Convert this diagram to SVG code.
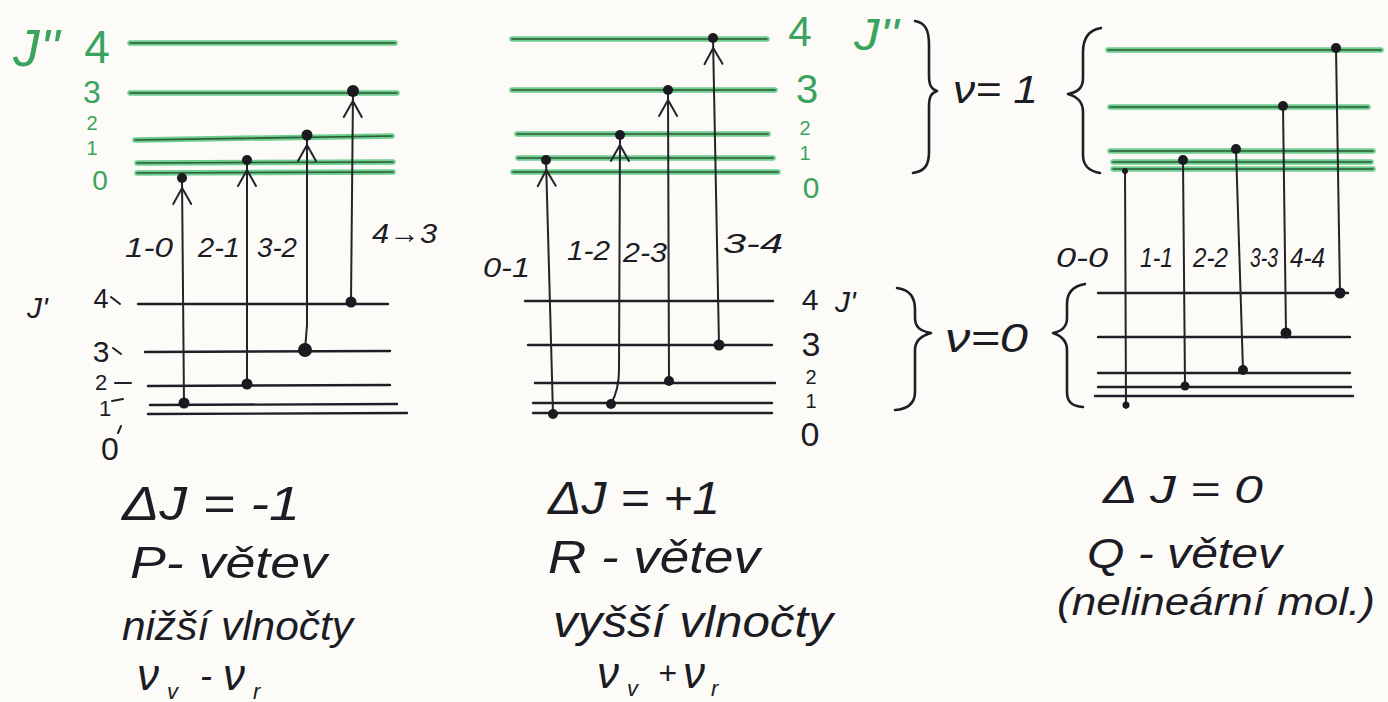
<svg xmlns="http://www.w3.org/2000/svg" width="1388" height="702" viewBox="0 0 1388 702">
<style>
.halo{fill:none;stroke:#5fc882;stroke-width:5.5;stroke-linecap:round;opacity:.9}
.core{fill:none;stroke:#2c5a3a;stroke-width:1.6;stroke-linecap:round}
.lvl{fill:none;stroke:#1e1e26;stroke-width:2.4;stroke-linecap:round}
.tr{fill:none;stroke:#23232a;stroke-width:2;stroke-linecap:round;stroke-linejoin:round}
.dot{fill:#1a1a20}
.brace{fill:none;stroke:#1e1e26;stroke-width:2.6;stroke-linecap:round;stroke-linejoin:round}
.hw{font-family:"Liberation Sans",Arial,sans-serif;font-style:italic;fill:#1c1c24}
.num{font-family:"Liberation Sans",Arial,sans-serif;fill:#1c1c24;text-anchor:middle}
.gn{font-family:"Liberation Sans",Arial,sans-serif;fill:#3aa35e;text-anchor:middle}
.gj{font-family:"Liberation Sans",Arial,sans-serif;font-style:italic;fill:#3aa35e}
.tick{fill:none;stroke:#1e1e26;stroke-width:2;stroke-linecap:round}
</style>
<defs>
<marker id="chev" markerUnits="userSpaceOnUse" markerWidth="40" markerHeight="40" refX="10" refY="0" orient="auto" overflow="visible">
<path d="M-16,-9 L0,0 L-16,9" fill="none" stroke="#23232a" stroke-width="2" stroke-linecap="round" stroke-linejoin="round"/>
</marker>
<path id="a4" d="M130,43 L395,43"/>
<path id="a3" d="M130,93 L397,93"/>
<path id="a2" d="M135,140 L392,136"/>
<path id="a1" d="M137,163 L393,162"/>
<path id="a0" d="M137,173 L393,172"/>
<path id="b4" d="M512,39 L767,39"/>
<path id="b3" d="M512,90 L775,90"/>
<path id="b2" d="M517,134 L768,134"/>
<path id="b1" d="M518,158 L773,158"/>
<path id="b0" d="M513,172 L778,172"/>
<path id="c4" d="M1108,50 L1381,50"/>
<path id="c3" d="M1110,107 L1368,107"/>
<path id="c2" d="M1110,151 L1373,151"/>
<path id="c1" d="M1113,162 L1371,162"/>
<path id="c0" d="M1113,169 L1373,169"/>
</defs>
<rect width="1388" height="702" fill="#fcfbf7"/>

<!-- Panel P -->
<g id="p-upper-levels">
<g id="p-J2-4"><use href="#a4" class="halo"/><use href="#a4" class="core"/></g>
<g id="p-J2-3"><use href="#a3" class="halo"/><use href="#a3" class="core"/></g>
<g id="p-J2-2"><use href="#a2" class="halo"/><use href="#a2" class="core"/></g>
<g id="p-J2-1"><use href="#a1" class="halo"/><use href="#a1" class="core"/></g>
<g id="p-J2-0"><use href="#a0" class="halo"/><use href="#a0" class="core"/></g>
<text class="gj" x="13" y="66" font-size="52" textLength="47" lengthAdjust="spacingAndGlyphs">J''</text>
<text class="gn" x="97" y="63" font-size="46">4</text>
<text class="gn" x="92" y="103" font-size="32">3</text>
<text class="gn" x="92" y="130" font-size="20">2</text>
<text class="gn" x="92" y="155" font-size="20">1</text>
<text class="gn" x="100" y="190" font-size="28">0</text>
</g>
<g id="p-lower-levels">
<path class="lvl" d="M138,304 L388,304"/>
<path class="lvl" d="M145,352 L390,351"/>
<path class="lvl" d="M148,386 L390,385"/>
<path class="lvl" d="M150,405 L397,404"/>
<path class="lvl" d="M148,414 L407,413"/>
<text class="hw" x="27" y="318" font-size="30">J'</text>
<text class="num" x="101" y="308" font-size="27">4</text>
<text class="num" x="101" y="362" font-size="30">3</text>
<text class="num" x="101" y="390" font-size="22">2</text>
<text class="num" x="105" y="416" font-size="22">1</text>
<text class="num" x="110" y="460" font-size="32">0</text>
<path class="tick" d="M111,297 L120,304"/>
<path class="tick" d="M113,348 L121,354"/>
<path class="tick" d="M115,383 L131,383"/>
<path class="tick" d="M112,401 L123,399"/>
<path class="tick" d="M121,426 L118,433"/>
</g>

<!-- Panel R -->
<g id="r-upper-levels">
<g id="r-J2-4"><use href="#b4" class="halo"/><use href="#b4" class="core"/></g>
<g id="r-J2-3"><use href="#b3" class="halo"/><use href="#b3" class="core"/></g>
<g id="r-J2-2"><use href="#b2" class="halo"/><use href="#b2" class="core"/></g>
<g id="r-J2-1"><use href="#b1" class="halo"/><use href="#b1" class="core"/></g>
<g id="r-J2-0"><use href="#b0" class="halo"/><use href="#b0" class="core"/></g>
<text class="gn" x="800" y="46" font-size="42">4</text>
<text class="gn" x="807" y="103" font-size="40">3</text>
<text class="gn" x="805" y="135" font-size="20">2</text>
<text class="gn" x="805" y="160" font-size="20">1</text>
<text class="gn" x="811" y="198" font-size="30">0</text>
</g>
<g id="r-lower-levels">
<path class="lvl" d="M525,301 L773,301"/>
<path class="lvl" d="M528,345 L772,345"/>
<path class="lvl" d="M535,383 L775,383"/>
<path class="lvl" d="M533,403 L772,403"/>
<path class="lvl" d="M533,413 L772,413"/>
<text class="num" x="810" y="310" font-size="30">4</text>
<text class="num" x="811" y="356" font-size="34">3</text>
<text class="num" x="811" y="384" font-size="20">2</text>
<text class="num" x="811" y="408" font-size="20">1</text>
<text class="num" x="810" y="446" font-size="34">0</text>
<text class="hw" x="835" y="312" font-size="30">J'</text>
</g>

<!-- Panel Q -->
<g id="q-upper-levels">
<g id="q-J2-4"><use href="#c4" class="halo"/><use href="#c4" class="core"/></g>
<g id="q-J2-3"><use href="#c3" class="halo"/><use href="#c3" class="core"/></g>
<g id="q-J2-2"><use href="#c2" class="halo"/><use href="#c2" class="core"/></g>
<g id="q-J2-1"><use href="#c1" class="halo"/><use href="#c1" class="core"/></g>
<g id="q-J2-0"><use href="#c0" class="halo"/><use href="#c0" class="core"/></g>
<text class="gj" x="854" y="50" font-size="44" textLength="45" lengthAdjust="spacingAndGlyphs">J''</text>
<path class="brace" d="M915,21 C926,23 929,31 929,45 L929,75 C929,85 931,89 937,91 C931,93 929,97 929,107 L929,152 C929,165 925,171 913,173"/>
<text class="hw" x="953" y="103" font-size="38" textLength="85" lengthAdjust="spacingAndGlyphs">ν= 1</text>
<path class="brace" d="M1101,28 C1089,30 1083,38 1083,52 L1083,78 C1083,88 1078,92 1068,94 C1078,97 1083,102 1083,112 L1083,155 C1083,166 1089,171 1100,173"/>
</g>
<g id="q-lower-levels">
<path class="lvl" d="M1098,293 L1348,293"/>
<path class="lvl" d="M1098,337 L1350,337"/>
<path class="lvl" d="M1098,373 L1350,373"/>
<path class="lvl" d="M1098,387 L1351,387"/>
<path class="lvl" d="M1095,396 L1353,396"/>
<path class="brace" d="M897,288 C910,290 915,297 915,310 L915,318 C915,327 920,331 931,333 C920,336 915,341 915,350 L915,392 C915,403 908,409 895,410"/>
<text class="hw" x="945" y="352" font-size="40" textLength="83" lengthAdjust="spacingAndGlyphs">ν=0</text>
<path class="brace" d="M1085,284 C1073,286 1067,292 1067,304 L1067,318 C1067,327 1062,331 1053,333 C1062,336 1067,341 1067,350 L1067,392 C1067,402 1072,406 1083,407"/>
</g>

<!-- Connectors -->
<g id="connectors">
<path class="tr" d="M184,403 L182,178" marker-end="url(#chev)"/>
<path class="tr" d="M247,384 L247,160" marker-end="url(#chev)"/>
<path class="tr" d="M305,350 L307,325 L307,135" marker-end="url(#chev)"/>
<path class="tr" d="M351,302 L353,91" marker-end="url(#chev)"/>
<path class="tr" d="M553,414 L546,160" marker-end="url(#chev)"/>
<path class="tr" d="M611,404 C616,395 619,385 619,370 L620,135" marker-end="url(#chev)"/>
<path class="tr" d="M669,381 L668,90" marker-end="url(#chev)"/>
<path class="tr" d="M719,345 L713,38" marker-end="url(#chev)"/>
<path class="tr" d="M1125,170 L1126,408"/>
<path class="tr" d="M1183,160 L1185,386"/>
<path class="tr" d="M1236,149 L1243,370"/>
<path class="tr" d="M1283,106 L1286,333"/>
<path class="tr" d="M1336,48 L1340,293"/>
<g class="dot">
<circle cx="184" cy="403" r="5.5"/><circle cx="182" cy="178" r="5"/>
<circle cx="247" cy="384" r="5.5"/><circle cx="247" cy="160" r="5"/>
<circle cx="305" cy="350" r="7"/><circle cx="307" cy="135" r="5.5"/>
<circle cx="351" cy="302" r="5.5"/><circle cx="353" cy="91" r="6"/>
<circle cx="553" cy="414" r="5"/><circle cx="546" cy="160" r="5"/>
<circle cx="611" cy="404" r="5"/><circle cx="620" cy="135" r="5"/>
<circle cx="669" cy="381" r="5"/><circle cx="668" cy="90" r="5"/>
<circle cx="719" cy="345" r="5.5"/><circle cx="713" cy="38" r="5"/>
<circle cx="1125" cy="171" r="3"/><circle cx="1126" cy="405" r="3.5"/>
<circle cx="1183" cy="160" r="5"/><circle cx="1185" cy="386" r="4.5"/>
<circle cx="1236" cy="149" r="5"/><circle cx="1243" cy="370" r="5"/>
<circle cx="1283" cy="106" r="5"/><circle cx="1286" cy="333" r="5.5"/>
<circle cx="1336" cy="48" r="5"/><circle cx="1340" cy="293" r="5.5"/>
</g>
<text class="hw" x="125" y="257" font-size="28" textLength="48" lengthAdjust="spacingAndGlyphs">1-0</text>
<text class="hw" x="198" y="257" font-size="28" textLength="42" lengthAdjust="spacingAndGlyphs">2-1</text>
<text class="hw" x="257" y="257" font-size="28" textLength="40" lengthAdjust="spacingAndGlyphs">3-2</text>
<text class="hw" x="372" y="243" font-size="28" textLength="65" lengthAdjust="spacingAndGlyphs">4→3</text>
<text class="hw" x="483" y="277" font-size="28" textLength="47" lengthAdjust="spacingAndGlyphs">0-1</text>
<text class="hw" x="567" y="260" font-size="28" textLength="43" lengthAdjust="spacingAndGlyphs">1-2</text>
<text class="hw" x="623" y="262" font-size="28" textLength="44" lengthAdjust="spacingAndGlyphs">2-3</text>
<text class="hw" x="723" y="253" font-size="28" textLength="60" lengthAdjust="spacingAndGlyphs">3-4</text>
<text class="hw" x="1056" y="267" font-size="28" textLength="52" lengthAdjust="spacingAndGlyphs">0-0</text>
<text class="hw" x="1140" y="267" font-size="28" textLength="33" lengthAdjust="spacingAndGlyphs">1-1</text>
<text class="hw" x="1193" y="267" font-size="28" textLength="35" lengthAdjust="spacingAndGlyphs">2-2</text>
<text class="hw" x="1250" y="267" font-size="28" textLength="28" lengthAdjust="spacingAndGlyphs">3-3</text>
<text class="hw" x="1290" y="267" font-size="28" textLength="35" lengthAdjust="spacingAndGlyphs">4-4</text>
</g>

<!-- Captions -->
<g id="caption-P">
<text class="hw" x="122" y="520" font-size="48" textLength="178" lengthAdjust="spacingAndGlyphs">ΔJ = -1</text>
<text class="hw" x="130" y="578" font-size="44" textLength="197" lengthAdjust="spacingAndGlyphs">P- větev</text>
<text class="hw" x="122" y="640" font-size="40" textLength="231" lengthAdjust="spacingAndGlyphs">nižší vlnočty</text>
<text class="hw" font-size="44"><tspan x="137" y="690">ν</tspan><tspan x="167" y="699" font-size="22">v</tspan><tspan x="200" y="688" font-size="36">-</tspan><tspan x="223" y="690">ν</tspan><tspan x="253" y="699" font-size="22">r</tspan></text>
</g>
<g id="caption-R">
<text class="hw" x="548" y="514" font-size="46" textLength="172" lengthAdjust="spacingAndGlyphs">ΔJ = +1</text>
<text class="hw" x="548" y="573" font-size="46" textLength="212" lengthAdjust="spacingAndGlyphs">R - větev</text>
<text class="hw" x="553" y="637" font-size="44" textLength="280" lengthAdjust="spacingAndGlyphs">vyšší vlnočty</text>
<text class="hw" font-size="44"><tspan x="597" y="688">ν</tspan><tspan x="627" y="696" font-size="22">v</tspan><tspan x="658" y="684" font-size="32">+</tspan><tspan x="683" y="688">ν</tspan><tspan x="711" y="696" font-size="22">r</tspan></text>
</g>
<g id="caption-Q">
<text class="hw" x="1103" y="503" font-size="38" textLength="160" lengthAdjust="spacingAndGlyphs">Δ J = 0</text>
<text class="hw" x="1087" y="568" font-size="42" textLength="195" lengthAdjust="spacingAndGlyphs">Q - větev</text>
<text class="hw" x="1057" y="615" font-size="38" textLength="318" lengthAdjust="spacingAndGlyphs">(nelineární mol.)</text>
</g>
</svg>
